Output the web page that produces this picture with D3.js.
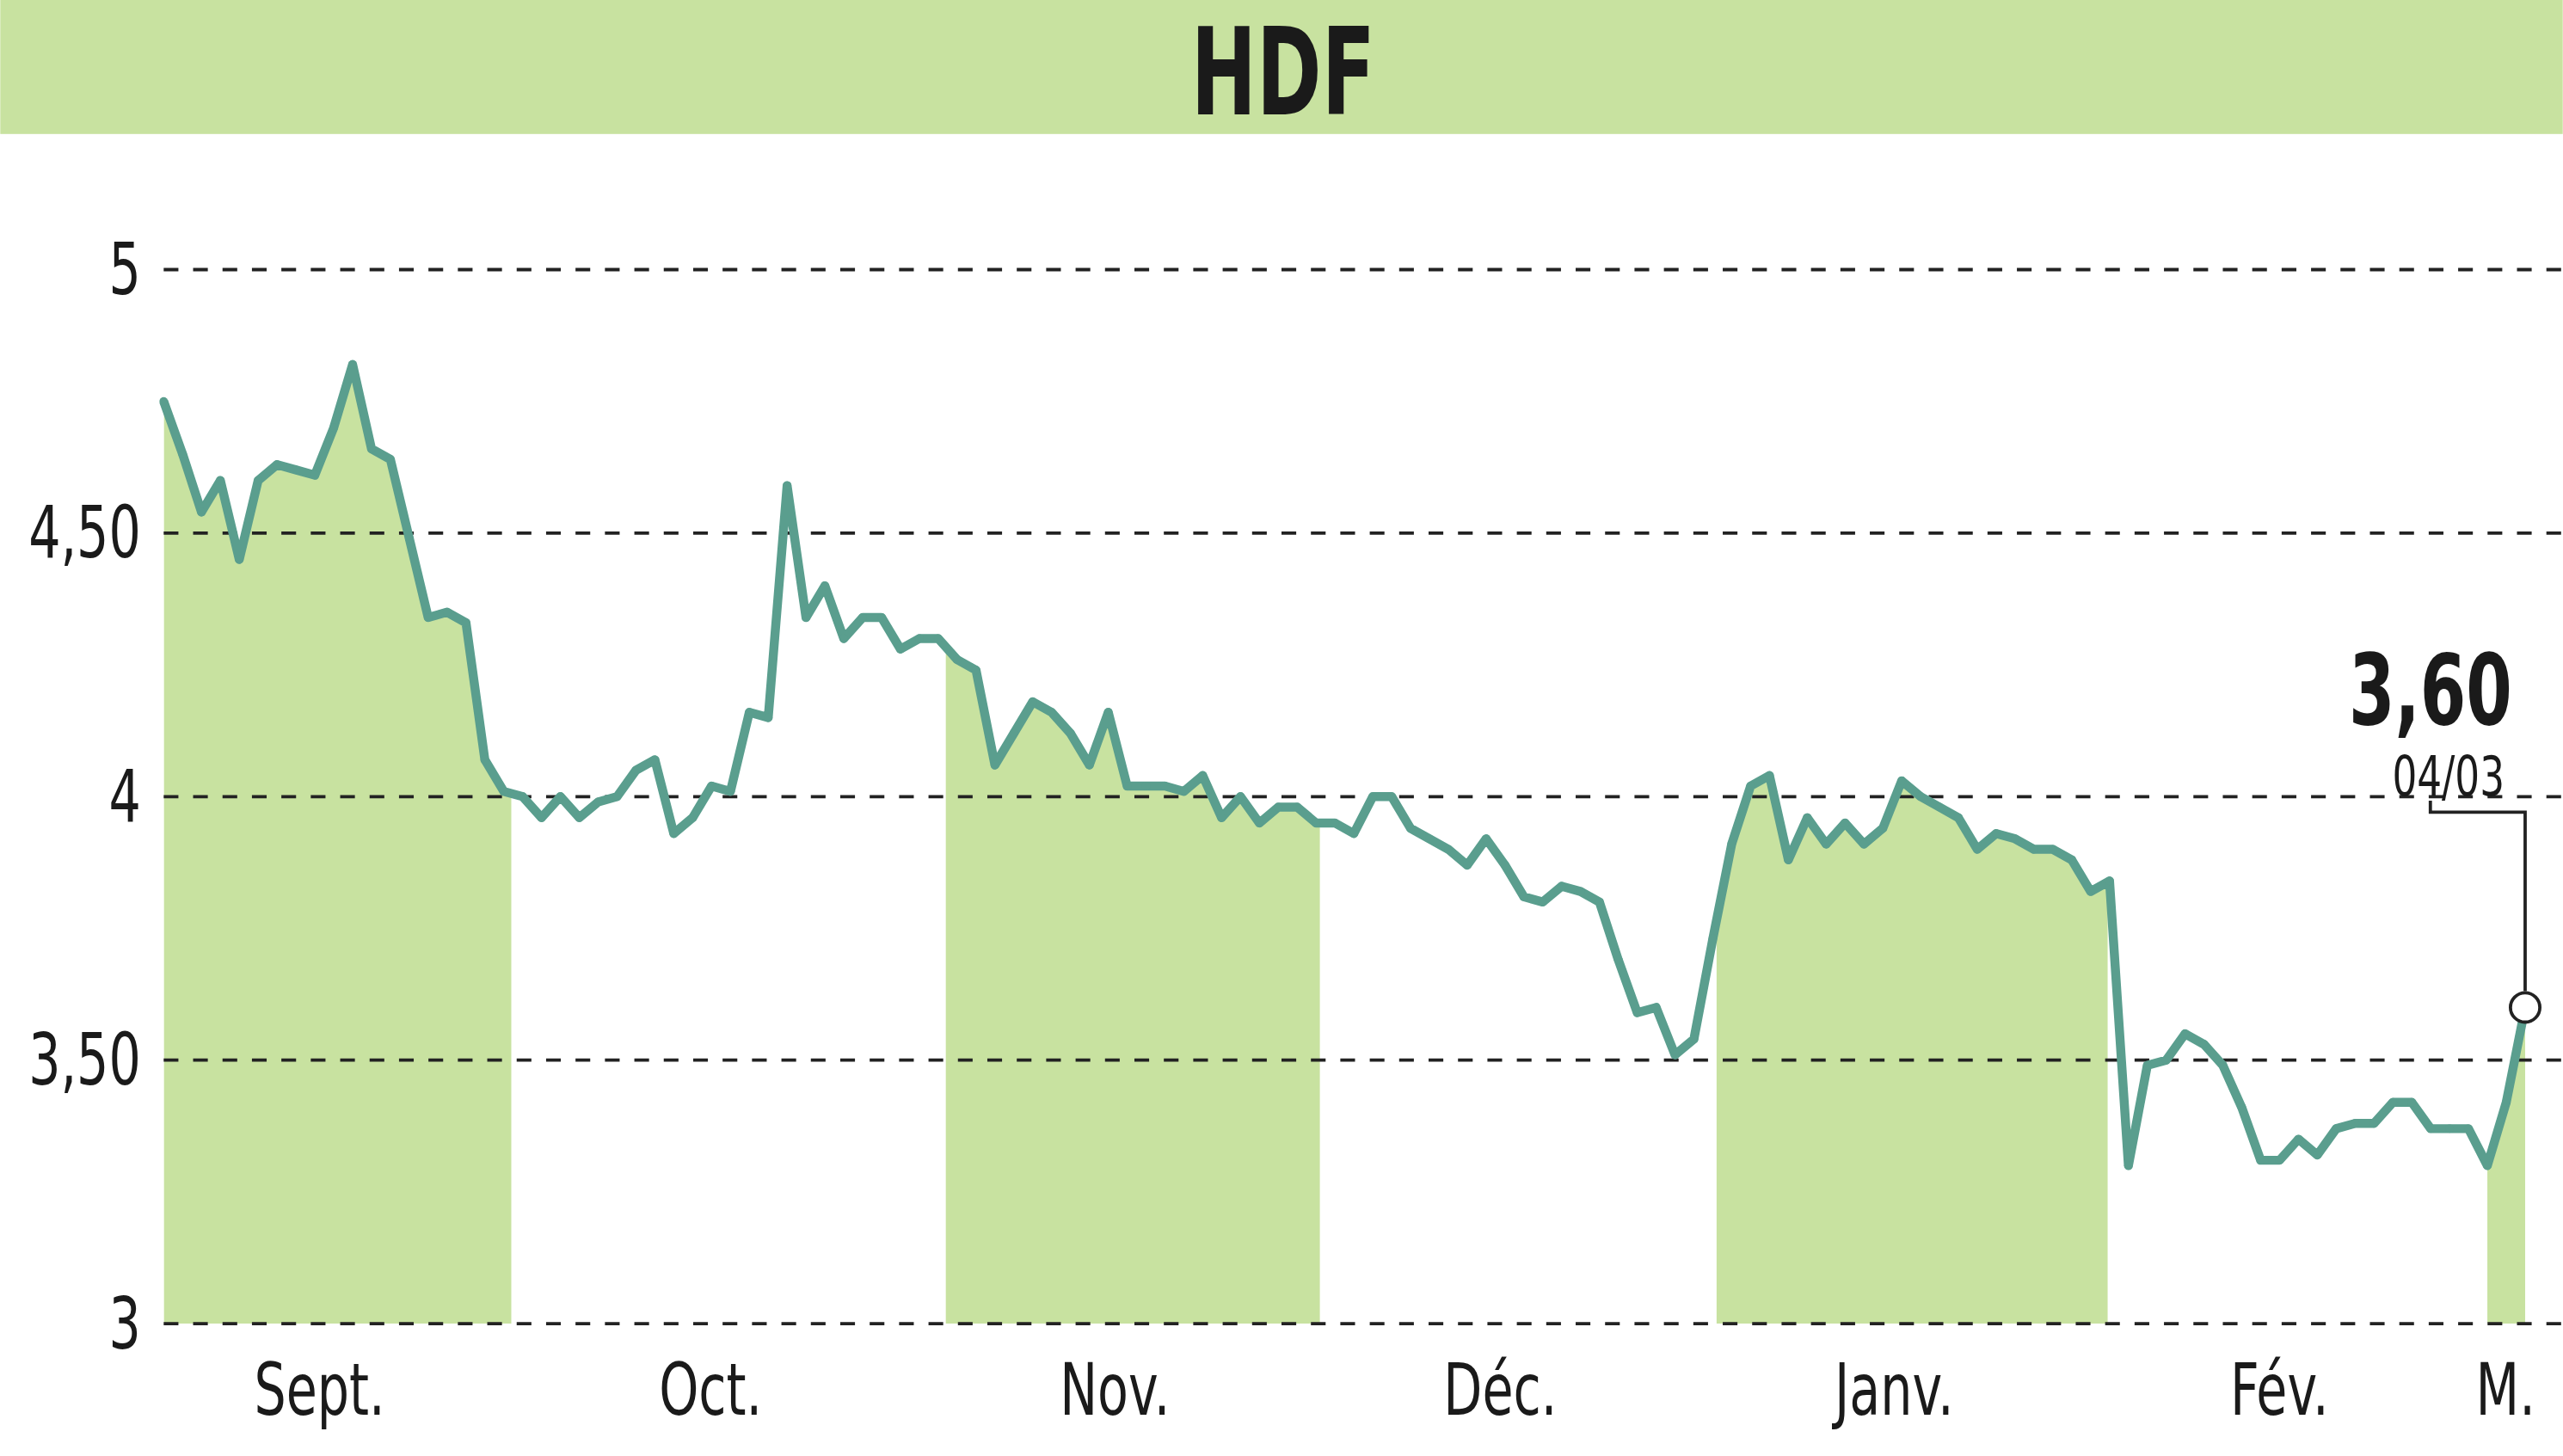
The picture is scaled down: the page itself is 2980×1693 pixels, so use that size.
<!DOCTYPE html>
<html><head><meta charset="utf-8">
<script src="https://cdn.jsdelivr.net/npm/d3@7"></script>
<style>html,body{margin:0;padding:0;background:#fff}</style></head>
<body><svg id="c"></svg>
<script>
const title = "HDF";
const values = [4.75,4.65,4.54,4.60,4.45,4.60,4.63,4.62,4.61,4.70,4.82,4.66,4.64,4.49,4.34,4.35,4.33,4.07,4.01,4.00,3.96,4.00,3.96,3.99,4.00,4.05,4.07,3.93,3.96,4.02,4.01,4.16,4.15,4.59,4.34,4.40,4.30,4.34,4.34,4.28,4.30,4.30,4.26,4.24,4.06,4.12,4.18,4.16,4.12,4.06,4.16,4.02,4.02,4.02,4.01,4.04,3.96,4.00,3.95,3.98,3.98,3.95,3.95,3.93,4.00,4.00,3.94,3.92,3.90,3.87,3.92,3.87,3.81,3.80,3.83,3.82,3.80,3.69,3.59,3.60,3.51,3.54,3.73,3.91,4.02,4.04,3.88,3.96,3.91,3.95,3.91,3.94,4.03,4.00,3.98,3.96,3.90,3.93,3.92,3.90,3.90,3.88,3.82,3.84,3.30,3.49,3.50,3.55,3.53,3.49,3.41,3.31,3.31,3.35,3.32,3.37,3.38,3.38,3.42,3.42,3.37,3.37,3.37,3.30,3.42,3.60];
const months = ["Sept.","Oct.","Nov.","Déc.","Janv.","Fév.","M."];
const monthStarts = [0,18.4,41.4,61.2,82.2,102.9,123.0];
const shaded = [0,2,4,6];
const yTicks = [3,3.5,4,4.5,5];
const yTickLabels = ["3","3,50","4","4,50","5"];
const lastLabel = "3,60", lastDate = "04/03";

const W=1568,H=891,n=values.length;
const svg=d3.select("#c").attr("width",2980).attr("height",1693).attr("viewBox",`0 0 ${W} ${H}`);
const font="'DejaVu Sans Condensed','DejaVu Sans',sans-serif";
const x=d3.scaleLinear().domain([0,n-1]).range([100,1545]);
const y=d3.scaleLinear().domain([3,5]).range([810,165]);
const green="#c8e2a0", line="#5a9e8e";
function txt(px,py,s,size,anchor,bold,sx){
  return svg.append("text").attr("transform",`translate(${px},${py}) scale(${sx||0.78},1)`)
    .attr("text-anchor",anchor).attr("font-family",font).attr("font-weight",bold?"bold":"normal")
    .attr("font-size",size).attr("fill","#1a1a1a").text(s);
}

svg.append("rect").attr("x",0).attr("y",0).attr("width",W).attr("height",82).attr("fill",green);
txt(785,70,title,74,"middle",true,0.72);

const defs=svg.append("defs");
const cp=defs.append("clipPath").attr("id","cp");
shaded.forEach(i=>{
  const a=monthStarts[i], b= i+1<monthStarts.length? monthStarts[i+1] : n-1;
  cp.append("rect").attr("x",x(a)).attr("y",0).attr("width",x(b)-x(a)).attr("height",H);
});
svg.append("path").datum(values).attr("clip-path","url(#cp)").attr("fill",green)
  .attr("d",d3.area().x((d,i)=>x(i)).y0(y(3)).y1(d=>y(d)));

yTicks.forEach((t,k)=>{
  svg.append("line").attr("x1",100).attr("x2",W).attr("y1",y(t)).attr("y2",y(t))
    .attr("stroke","#222").attr("stroke-width",2).attr("stroke-dasharray","9,9");
  txt(86,y(t)+15,yTickLabels[k],44,"end",false);
});
months.forEach((m,i)=>{
  const a=monthStarts[i], b=i+1<monthStarts.length?monthStarts[i+1]:n-1;
  let cx=x((a+b)/2)-11; if(i===months.length-1) cx=1533;
  txt(cx,866,m,44,"middle",false);
});

svg.append("path").datum(values).attr("fill","none").attr("stroke",line).attr("stroke-width",5.5)
  .attr("stroke-linejoin","round").attr("d",d3.line().x((d,i)=>x(i)).y(d=>y(d)));
svg.selectAll("circle.p").data(values).enter().append("circle").attr("class","p")
  .attr("cx",(d,i)=>x(i)).attr("cy",d=>y(d)).attr("r",2.6).attr("fill",line);

const lx=x(n-1), ly=y(values[n-1]);
svg.append("path").attr("d",`M1487,490 V497 H${lx} V${ly-10}`).attr("fill","none").attr("stroke","#222").attr("stroke-width",2);
svg.append("circle").attr("cx",lx).attr("cy",ly).attr("r",9).attr("fill","#fff").attr("stroke","#222").attr("stroke-width",2);
txt(1487,443,lastLabel,60,"middle",true,0.75);
txt(1498,487,lastDate,34,"middle",false);
</script></body></html>
